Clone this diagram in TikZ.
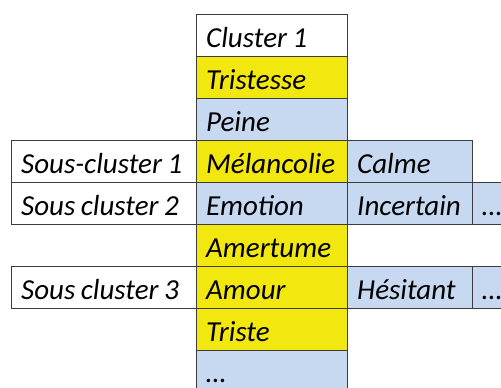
\documentclass[tikz,border=0pt]{standalone}
\usepackage{fontspec}
\setmainfont{Carlito}[WordSpace=0.84]
\definecolor{cyel}{RGB}{242,231,15}
\definecolor{cblue}{RGB}{198,217,241}
\definecolor{cline}{RGB}{60,60,60}
\tikzset{
  cellbox/.style={draw=cline, line width=0.9pt, rectangle, anchor=north west,
    minimum height=42pt, inner sep=0pt},
  ycell/.style={cellbox, fill=cyel},
  bcell/.style={cellbox, fill=cblue},
  wcell/.style={cellbox, fill=white},
  ctext/.style={anchor=base west, inner sep=0pt,
    font=\fontsize{29}{34}\selectfont\itshape},
}
\newcommand\mycell[6]{%
  \node[#2, minimum width=#5pt] (#1) at (#3,#4) {};
  \node[ctext] (#1t) at ([xshift=10pt,yshift=9pt]#1.south west) {#6};
}
\begin{document}
\begin{tikzpicture}[x=1pt,y=-1pt]
\useasboundingbox (0,0) rectangle (501,388);
\clip (0,0) rectangle (501,388);
% far right column
\mycell{e2}{bcell}{472}{182}{60}{…}
\mycell{e3}{bcell}{472}{266}{60}{…}
% right column
\mycell{r1}{bcell}{347}{140}{125}{Calme}
\mycell{r2}{bcell}{347}{182}{125}{Incertain}
\mycell{r3}{bcell}{347}{266}{125}{Hésitant}
% left column
\mycell{s1}{wcell}{11}{140}{185}{Sous-cluster 1}
\mycell{s2}{wcell}{11}{182}{185}{Sous cluster 2}
\mycell{s3}{wcell}{11}{266}{185}{Sous cluster 3}
% central column
\mycell{c1}{wcell}{196}{14}{151}{Cluster 1}
\mycell{c2}{ycell}{196}{56}{151}{Tristesse}
\mycell{c3}{bcell}{196}{98}{151}{Peine}
\mycell{c4}{ycell}{196}{140}{151}{Mélancolie}
\mycell{c5}{bcell}{196}{182}{151}{Emotion}
\mycell{c6}{ycell}{196}{224}{151}{Amertume}
\mycell{c7}{ycell}{196}{266}{151}{Amour}
\mycell{c8}{ycell}{196}{308}{151}{Triste}
\node[bcell, minimum width=151pt, minimum height=39pt] (c9) at (196,350) {};
\node[ctext] (c9t) at (206,382) {…};
\end{tikzpicture}
\end{document}
